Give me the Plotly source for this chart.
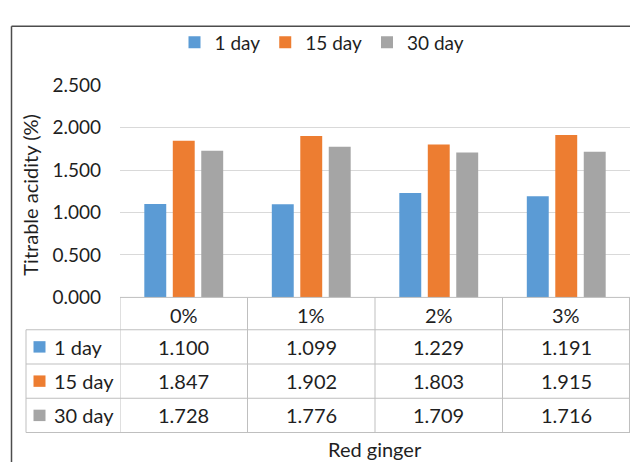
import plotly.graph_objects as go

# Titrable acidity of samples with added red ginger, measured over storage time
concentrations = ["0%", "1%", "2%", "3%"]
day_1 = [1.100, 1.099, 1.229, 1.191]
day_15 = [1.847, 1.902, 1.803, 1.915]
day_30 = [1.728, 1.776, 1.709, 1.716]
series_names = ["1 day", "15 day", "30 day"]
series_values = [day_1, day_15, day_30]
series_colors = ["#5B9BD5", "#ED7D31", "#A5A5A5"]
y_ticks = [0.0, 0.5, 1.0, 1.5, 2.0, 2.5]

W, H = 630, 473
FONT = "Lato"
TEXT = "#1F1F1F"
GRID = "#D9D9D9"
TABLE_LINE = "#BFBFBF"
FRAME = "#4D4D4D"


def py(px):
    """pixel row (from top) -> paper y"""
    return 1 - px / H


def pxx(px):
    """pixel column (from left) -> paper x"""
    return px / W


plot_left, plot_right = 120, 630
plot_top, plot_bottom = 77, 300
header_h, row_h = 34, 36
row_label_left = 26
key_size = 12

fig = go.Figure()
for name, vals, col in zip(series_names, series_values, series_colors):
    fig.add_trace(go.Bar(x=concentrations, y=vals, name=name, marker_color=col,
                         marker_line_width=0))

fig.update_layout(
    width=W, height=H,
    margin=dict(l=0, r=0, t=0, b=0),
    paper_bgcolor="white", plot_bgcolor="white",
    font=dict(family=FONT, size=19, color=TEXT),
    barmode="group", bargap=0.33, bargroupgap=0.23,
    showlegend=True,
    legend=dict(orientation="h", x=pxx(322), xanchor="center", y=py(32), yanchor="middle",
                font=dict(size=19, color=TEXT), itemwidth=30, bgcolor="rgba(0,0,0,0)"),
    xaxis=dict(domain=[pxx(plot_left), pxx(plot_right)], range=[-0.5, 3.5],
               showticklabels=False, showgrid=False, zeroline=False, showline=False,
               fixedrange=True),
    yaxis=dict(domain=[py(plot_bottom), py(plot_top)], range=[0, 2.5],
               tickvals=y_ticks, tickformat=".3f", showgrid=True, gridcolor=GRID,
               gridwidth=1, zeroline=False, showline=False, ticks="",
               ticklabelstandoff=18, tickfont=dict(size=19, color=TEXT)),
)

shapes = []
annotations = []

# outer chart frame
shapes.append(dict(type="line", xref="paper", yref="paper", x0=pxx(11.5), x1=1,
                   y0=py(15), y1=py(15), line=dict(color=FRAME, width=1.5)))
shapes.append(dict(type="line", xref="paper", yref="paper", x0=pxx(11.5), x1=pxx(11.5),
                   y0=py(15), y1=0, line=dict(color=FRAME, width=1.5)))

# data table below the plot
table_top = plot_bottom
row_bounds = [table_top, table_top + header_h]
for _ in series_names:
    row_bounds.append(row_bounds[-1] + row_h)
table_bottom = row_bounds[-1]

line_style = dict(color=TABLE_LINE, width=1)
# header top border spans only the category columns
shapes.append(dict(type="line", xref="paper", yref="paper", x0=pxx(plot_left), x1=1,
                   y0=py(table_top), y1=py(table_top), line=line_style))
for yb in row_bounds[1:]:
    shapes.append(dict(type="line", xref="paper", yref="paper", x0=pxx(row_label_left), x1=1,
                       y0=py(yb), y1=py(yb), line=line_style))
# vertical separators between categories (in axis units)
for i in range(len(concentrations) + 1):
    xv = i - 0.5
    if i == len(concentrations):
        xv = i - 0.5 - 0.004
    shapes.append(dict(type="line", xref="x", yref="paper", x0=xv, x1=xv,
                       y0=py(table_top), y1=py(table_bottom), line=line_style))
shapes.append(dict(type="line", xref="paper", yref="paper", x0=pxx(row_label_left),
                   x1=pxx(row_label_left), y0=py(row_bounds[1]), y1=py(table_bottom),
                   line=line_style))

# header row: category names
hdr_mid = (row_bounds[0] + row_bounds[1]) / 2 + 1
for c in concentrations:
    annotations.append(dict(x=c, xref="x", y=py(hdr_mid), yref="paper", text=c,
                            showarrow=False, font=dict(size=20, color=TEXT),
                            xanchor="center", yanchor="middle"))

# value rows with colour keys
for r, (name, vals, col) in enumerate(zip(series_names, series_values, series_colors)):
    mid = (row_bounds[r + 1] + row_bounds[r + 2]) / 2
    shapes.append(dict(type="rect", xref="paper", yref="paper",
                       x0=pxx(33.5), x1=pxx(33.5 + key_size),
                       y0=py(mid + key_size / 2), y1=py(mid - key_size / 2),
                       fillcolor=col, line=dict(width=0)))
    annotations.append(dict(
        x=pxx(52), xref="paper", y=py(mid), yref="paper", text=name,
        showarrow=False, font=dict(size=20, color=TEXT), xanchor="left", yanchor="middle"))
    for c, v in zip(concentrations, vals):
        annotations.append(dict(x=c, xref="x", y=py(mid), yref="paper", text=f"{v:.3f}",
                                showarrow=False, font=dict(size=20, color=TEXT),
                                xanchor="center", yanchor="middle"))

# axis titles
annotations.append(dict(x=pxx(30.5), xref="paper", y=py((plot_top + plot_bottom) / 2 + 4),
                        yref="paper", text="Titrable acidity (%)", textangle=-90,
                        showarrow=False, font=dict(size=20, color=TEXT),
                        xanchor="center", yanchor="middle"))
annotations.append(dict(x=0.5, xref="x domain", y=py(459), yref="paper", text="Red ginger",
                        showarrow=False, font=dict(size=20, color=TEXT),
                        xanchor="center", yanchor="middle"))

fig.update_layout(shapes=shapes, annotations=annotations)
fig.write_html("out.html")
